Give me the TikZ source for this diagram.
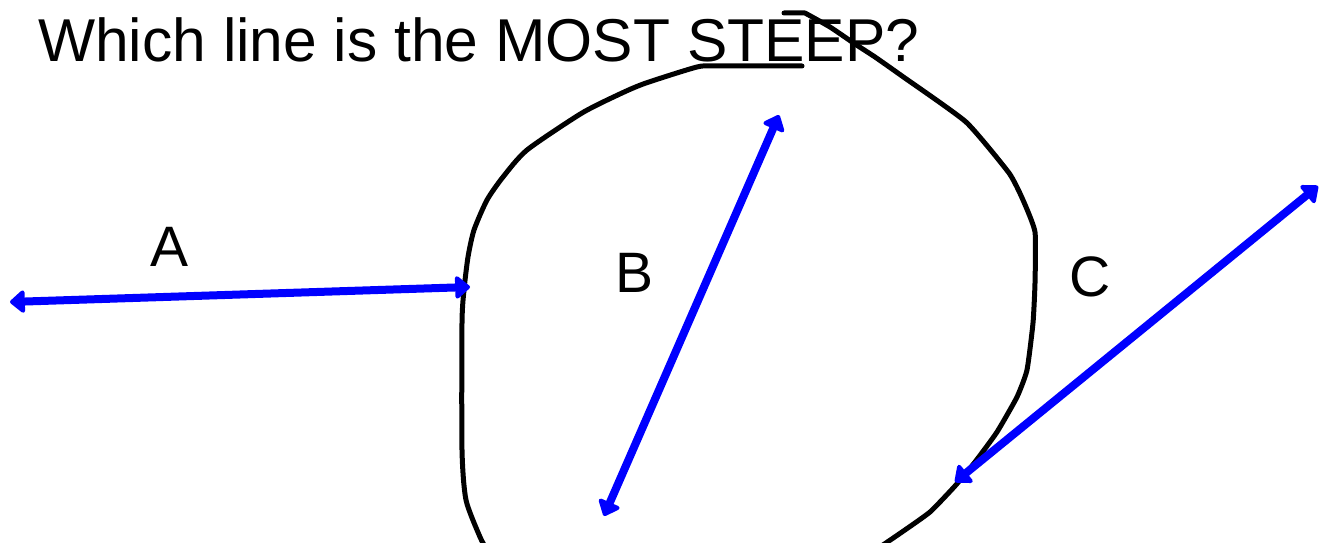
\documentclass[tikz,border=0pt]{standalone}
\usepackage{fontspec}
\setmainfont{Liberation Sans}
\usetikzlibrary{arrows.meta}
\tikzset{
  freccia/.style={line width=8pt, blue, line cap=round,
    {Triangle[length=16pt,width=26pt,round]}-{Triangle[length=16pt,width=26pt,round]}},
  tratto/.style={line width=5pt, black, line join=round, line cap=round},
  lettera/.style={font=\fontsize{57}{60}\selectfont, inner sep=0pt}
}
\begin{document}
\begin{tikzpicture}[x=1pt, y=-1pt]
    \useasboundingbox (0,0) rectangle (1326,543);
    %titolo
    \node[anchor=base west, inner sep=0pt, font=\fontsize{60.5}{66}\selectfont] (titolo) at (38,62) {Which line is the MOST STEEP?};
    %contorno a mano
    \draw[tratto] plot[smooth, tension=0.4] coordinates {(802,66) (717,66) (697,67) (646,83) (622,93) (582,113) (527,150) (503,177) (487,200) (474,230) (468,257) (464,290) (462,323) (462,450) (466,500) (480,537) (486,548)};
    \draw[tratto] (784,13) -- (805,13) plot[smooth, tension=0.3] coordinates {(805,13) (830,27) (855,44) (875,57) (902,76) (966,122) (1009,173) (1023,200) (1035,232) (1035,283) (1033,323) (1027,370) (1017,397) (997,432) (975,462) (955,486) (930,512) (902,532) (880,547)};
    %punti delle frecce
    \coordinate (Asx) at (10,302);
    \coordinate (Adx) at (470,287);
    \coordinate (Bgiu) at (604,516);
    \coordinate (Bsu) at (779,115);
    \coordinate (Cgiu) at (955,482);
    \coordinate (Csu) at (1318,186);
    %frecce
    \draw[freccia] (Asx) -- (Adx);
    \draw[freccia] (Bgiu) -- (Bsu);
    \draw[freccia] (Cgiu) -- (Csu);
    %etichette
    \node[lettera] (etA) at (170,247) {A};
    \node[lettera] (etB) at (635,273) {B};
    \node[lettera] (etC) at (1090,277) {C};
\end{tikzpicture}
\end{document}
